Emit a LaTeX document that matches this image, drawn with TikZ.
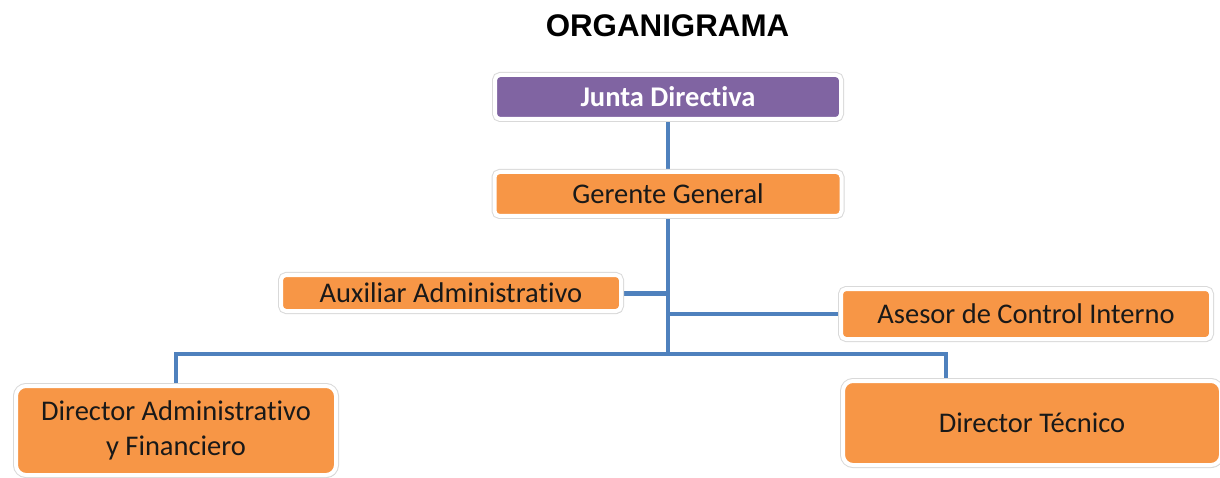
\documentclass[tikz,border=0pt]{standalone}
\usepackage{fontspec}
\setmainfont{Carlito}[Ligatures=NoCommon]
\newfontfamily\titlefont{Liberation Sans}
\usetikzlibrary{shadows,backgrounds}
\definecolor{orangebox}{HTML}{F79646}
\definecolor{purplebox}{HTML}{8064A2}
\definecolor{lineblue}{HTML}{4F81BD}
\begin{document}
\begin{tikzpicture}[x=1pt,y=-1pt,
  box/.style={rectangle, rounded corners=5pt, fill=orangebox, draw=white, line width=4pt,
    inner sep=0pt, font=\fontsize{28.5}{35}\selectfont, text=black!90, align=center,
    drop shadow={shadow xshift=1.5pt, shadow yshift=-2.5pt, opacity=0.4, fill=black!60},
    preaction={draw=black!15, line width=6pt}},
  bigbox/.style={box, rounded corners=10pt},
  conn/.style={draw=lineblue, line width=3.5pt},
  thickconn/.style={draw=lineblue, line width=5pt}]
\useasboundingbox (0,0) rectangle (1220,478);
\node[font=\titlefont\bfseries\fontsize{31.3}{31.3}\selectfont] (title) at (667.5,26) {ORGANIGRAMA};
% boxes
\node[box, fill=purplebox, text=white, font=\fontsize{28.5}{35}\selectfont\bfseries,
  minimum width=346pt, minimum height=44pt] (jd) at (668,97) {Junta Directiva};
\node[box, minimum width=347pt, minimum height=44pt] (gg) at (668,194) {Gerente General};
\node[box, minimum width=340pt, minimum height=36pt] (aa) at (451,293) {Auxiliar Administrativo};
\node[box, minimum width=370pt, minimum height=50pt] (ac) at (1026,314) {Asesor de Control Interno};
\node[bigbox, minimum width=320pt, minimum height=89pt] (da) at (176,430.5) {Director Administrativo\\y Financiero};
\node[bigbox, minimum width=378pt, minimum height=84pt] (dt) at (1032,423) {Director T\'ecnico};
% hubs
\coordinate (hub) at (668,354);
\coordinate (jaa) at (gg.south |- aa.east);
\coordinate (jac) at (gg.south |- ac.west);
\coordinate (dtin) at ([xshift=-86pt]dt.north);
\begin{scope}[on background layer]
\draw[conn] (jd.south) -- (gg.north);
\draw[conn] (gg.south) -- (hub);
\draw[thickconn] (aa.east) -- (jaa);
\draw[conn] (jac) -- (ac.west);
\draw[conn] (da.north) |- (hub) -| (dtin);
\end{scope}
\end{tikzpicture}
\end{document}
